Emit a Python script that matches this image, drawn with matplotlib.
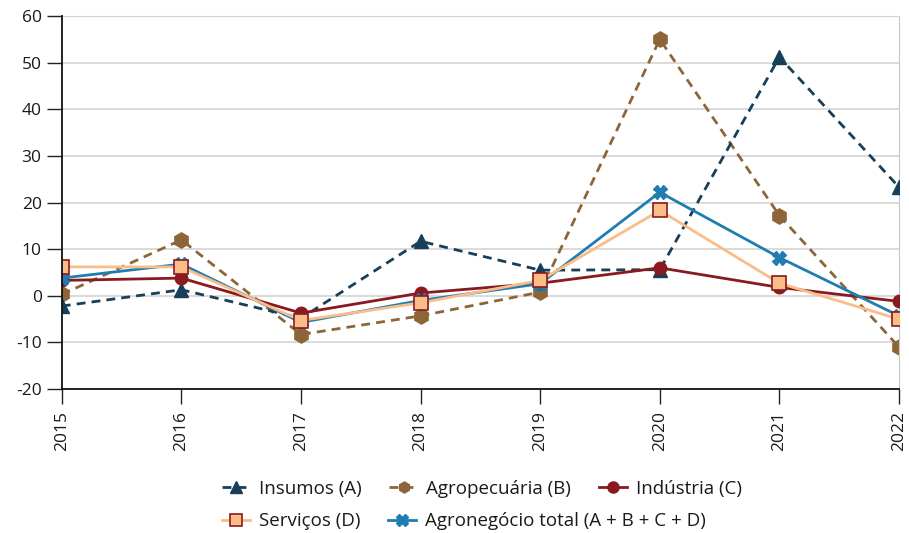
import matplotlib

matplotlib.use("Agg")
import matplotlib.pyplot as plt

plt.rcParams["font.family"] = ["Open Sans", "DejaVu Sans"]
plt.rcParams["axes.unicode_minus"] = False

years = [2015, 2016, 2017, 2018, 2019, 2020, 2021, 2022]
insumos = [-2.2, 1.3, -4.8, 11.7, 5.5, 5.6, 51.2, 23.3]
agropecuaria = [0.3, 12.0, -8.3, -4.3, 0.8, 55.0, 17.2, -11.0]
industria = [3.3, 3.8, -3.7, 0.6, 2.7, 6.0, 1.8, -1.2]
servicos = [6.2, 6.2, -5.3, -1.5, 3.3, 18.3, 2.7, -5.0]
total = [3.8, 6.8, -5.7, -1.0, 2.6, 22.2, 8.2, -4.3]

fig = plt.figure(figsize=(9.09, 5.33), dpi=100)
ax = fig.add_axes([0.068, 0.27, 0.921, 0.70])

h_a, = ax.plot(years, insumos, color="#173f5a", ls=(0, (3.2, 2.2)), lw=2,
               marker="^", ms=10, label="Insumos (A)", zorder=3)
h_b, = ax.plot(years, agropecuaria, color="#8c6639", ls=(0, (3.2, 2.2)), lw=2,
               marker="h", ms=11, label="Agropecuária (B)", zorder=2)
h_c, = ax.plot(years, industria, color="#8a1a1f", lw=2, marker="o", ms=9,
               label="Indústria (C)", zorder=4)
h_e, = ax.plot(years, total, color="#1f7db0", lw=2, marker="X", ms=10,
               label="Agronegócio total (A + B + C + D)", zorder=5)
h_d, = ax.plot(years, servicos, color="#fbbd87", lw=2, marker="s", ms=10,
               mfc="#fbbd87", mec="#8a1a1f", mew=1.2, label="Serviços (D)", zorder=6)

ax.set_xlim(2015, 2022)
ax.set_ylim(-20, 60)
ax.set_yticks(range(-20, 61, 10))
ax.set_xticks(years)
ax.set_xticklabels([str(y) for y in years], rotation=90)
ax.tick_params(axis="both", length=11, width=1, color="#222222",
               labelsize=12.5, labelcolor="#1a1a1a")
ax.tick_params(axis="x", pad=5)
ax.grid(axis="y", color="#d4d4d4", lw=1.2)
ax.set_axisbelow(True)
ax.spines["left"].set_color("#111111")
ax.spines["bottom"].set_color("#111111")
ax.spines["left"].set_linewidth(1.3)
ax.spines["bottom"].set_linewidth(1.3)
ax.spines["top"].set_color("#d4d4d4")
ax.spines["right"].set_color("#c8c8c8")
ax.spines["left"].set_zorder(10)
ax.spines["bottom"].set_zorder(10)
for spine in ax.spines.values():
    spine.set_clip_on(False)

leg_kw = dict(frameon=False, fontsize=13.5, handlelength=1.5, handletextpad=0.45,
              borderaxespad=0, labelcolor="#1a1a1a")
leg1 = fig.legend([h_a, h_b, h_c], [h.get_label() for h in (h_a, h_b, h_c)],
                  ncol=3, loc="center left", bbox_to_anchor=(0.236, 0.083),
                  columnspacing=1.5, **leg_kw)
leg2 = fig.legend([h_d, h_e], [h.get_label() for h in (h_d, h_e)],
                  ncol=2, loc="center left", bbox_to_anchor=(0.236, 0.022),
                  columnspacing=1.5, **leg_kw)
for leg in (leg1, leg2):
    for line in leg.get_lines():
        line.set_markersize(8)

fig.savefig("out.png", dpi=100)
